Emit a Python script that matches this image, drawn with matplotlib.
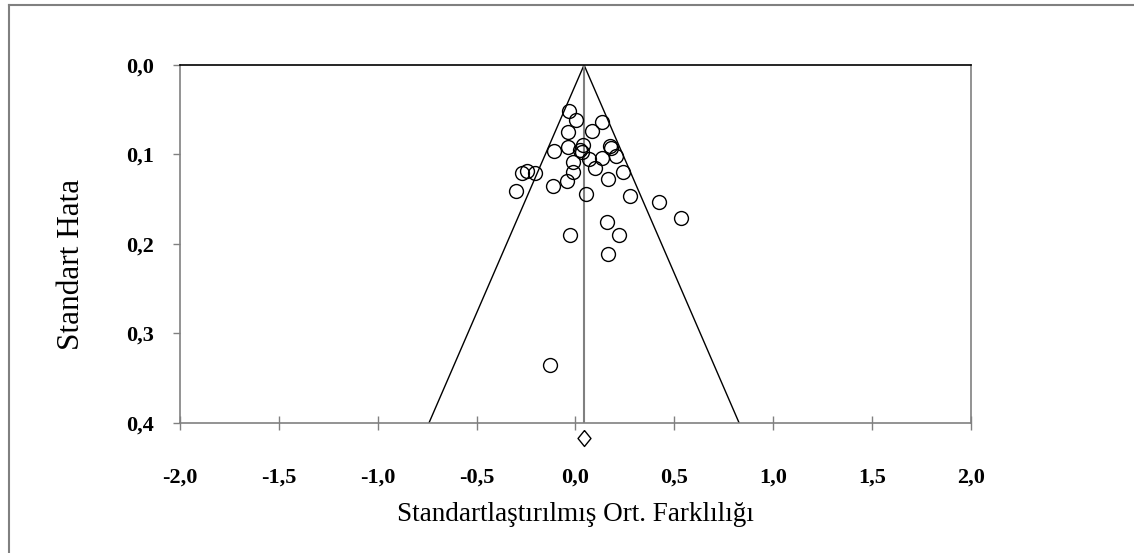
import numpy as np
import matplotlib
matplotlib.use("Agg")
import matplotlib.pyplot as plt
from matplotlib.lines import Line2D

# study effect sizes (standardised mean difference) and standard errors
smd = [-0.032, 0.001, 0.135, -0.036, 0.086, -0.110, -0.036, 0.037, 0.023, 0.032,
       0.175, 0.178, 0.205, 0.135, 0.067, -0.014, 0.099, 0.243, -0.012, -0.272,
       -0.243, -0.204, -0.041, -0.115, 0.165, -0.302, 0.054, 0.276, 0.425, 0.533,
       0.158, -0.027, 0.222, 0.167, -0.129]
se = [0.051, 0.062, 0.064, 0.075, 0.074, 0.096, 0.092, 0.090, 0.095, 0.097,
      0.091, 0.093, 0.102, 0.104, 0.105, 0.108, 0.115, 0.120, 0.120, 0.121,
      0.119, 0.121, 0.130, 0.135, 0.127, 0.141, 0.144, 0.146, 0.153, 0.171,
      0.176, 0.190, 0.190, 0.211, 0.335]

pooled = 0.044
se_max = 0.4

xticks = [-2.0, -1.5, -1.0, -0.5, 0.0, 0.5, 1.0, 1.5, 2.0]
xticklabels = ["-2,0", "-1,5", "-1,0", "-0,5", "0,0", "0,5", "1,0", "1,5", "2,0"]
yticks = [0.0, 0.1, 0.2, 0.3, 0.4]
yticklabels = ["0,0", "0,1", "0,2", "0,3", "0,4"]

plt.rcParams["font.family"] = ["Liberation Serif", "DejaVu Serif"]

fig = plt.figure(figsize=(11.34, 5.53), dpi=100)
ax = fig.add_axes([180 / 1134, 130.3 / 553, 790.7 / 1134, 357.7 / 553])

gray = "#808080"

# funnel (pseudo 95% limits) and pooled line
ax.plot([pooled - 1.96 * se_max, pooled, pooled + 1.96 * se_max], [se_max, 0, se_max],
        color="black", lw=1.0, zorder=2)
ax.plot([pooled, pooled], [0, se_max], color=gray, lw=1.5, zorder=2)

ax.plot(smd, se, "o", ms=10, mfc="none", mec="black", mew=1.0, zorder=3)

# summary diamond below the axis
diamond = [(0, 1), (0.81, 0), (0, -1), (-0.81, 0), (0, 1)]
ax.plot([pooled], [0.4175], marker=diamond, ms=11.5, mfc="white", mec="black", mew=1.0,
        clip_on=False, zorder=4)

ax.set_xlim(-2.0, 2.0)
ax.set_ylim(0.4, 0.0)
ax.set_xticks(xticks)
ax.set_xticklabels(xticklabels, fontsize=16, fontweight="bold")
ax.set_yticks(yticks)
ax.set_yticklabels(yticklabels, fontsize=16, fontweight="bold")
ax.tick_params(axis="x", direction="inout", length=10, width=1, color=gray, pad=27)
ax.tick_params(axis="y", direction="out", length=5, width=1, color=gray, pad=14)

for s in ["left", "bottom", "right"]:
    ax.spines[s].set_color(gray)
    ax.spines[s].set_linewidth(1.2)
ax.spines["top"].set_color("black")
ax.spines["top"].set_linewidth(1.2)

ax.set_xlabel("Standartlaştırılmış Ort. Farklılığı", fontsize=19.5, va="center")
ax.xaxis.set_label_coords(0.5, -0.258)
ax.set_ylabel("Standart Hata", fontsize=22.5, va="center")
ax.yaxis.set_label_coords(-0.137, 0.442)

# outer frame (only left and top edges visible)
fig.add_artist(Line2D([9 / 1134, 9 / 1134], [0, 1 - 5 / 553], transform=fig.transFigure,
                      color=gray, lw=1.5))
fig.add_artist(Line2D([9 / 1134, 1], [1 - 5 / 553, 1 - 5 / 553], transform=fig.transFigure,
                      color=gray, lw=1.5))

fig.savefig("out.png", dpi=100)
